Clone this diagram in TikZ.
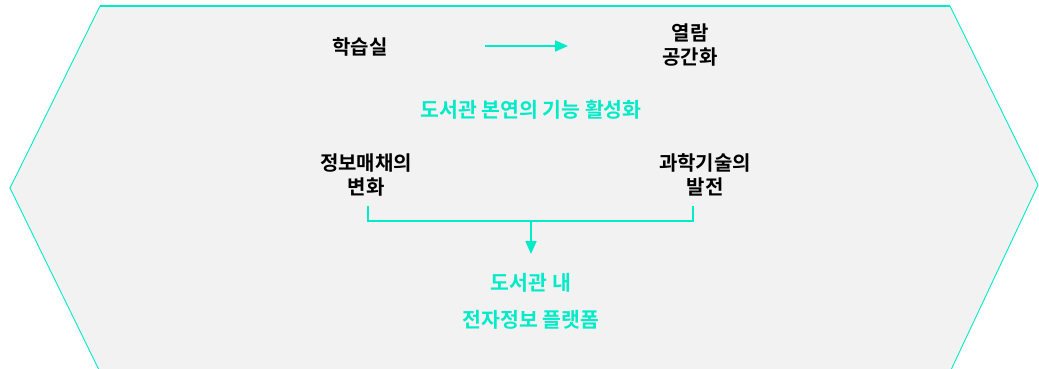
\documentclass[tikz,border=0pt]{standalone}
\usepackage{fontspec}
\setmainfont{Noto Sans CJK KR}[BoldFont={Noto Sans CJK KR Bold}]
\usetikzlibrary{arrows.meta}
\definecolor{aqua}{RGB}{0,235,200}
\tikzset{
  lbl/.style={font=\fontsize{20}{23.5}\selectfont\bfseries, text=black, align=center, inner sep=0pt},
  clbl/.style={font=\fontsize{20.5}{24}\selectfont\bfseries, text=aqua, align=center, inner sep=0pt},
  conn/.style={draw=aqua, line width=1.8pt},
  tip/.style={-{Triangle[length=13pt,width=11pt]}}
}
\begin{document}
\begin{tikzpicture}[x=1pt,y=-1pt]
\useasboundingbox (0,0) rectangle (1039,369);
\fill[black!5] (100,6) -- (950,6) -- (1038,185) -- (950,372) -- (100,372) -- (10,188) -- cycle;
\draw[aqua, line width=0.9pt] (100,372) -- (10,188) -- (100,6);
\draw[aqua, line width=0.9pt] (950,6) -- (1038,185) -- (950,372);
\draw[aqua, line width=1.8pt] (100,6) -- (950,6);

\node[lbl] (study) at (360,47) {학습실};
\node[lbl] (open) at (690,45) {열람\\공간화};
\coordinate (a1) at (485,46);
\coordinate (a2) at (568,46);
\draw[conn,tip] (a1) -- (a2);

\node[clbl] (core) at (531,110) {도서관 본연의 기능 활성화};

\node[lbl] (media) at (366,175) {정보매채의\\변화};
\node[lbl] (tech) at (705,175) {과학기술의\\발전};

\coordinate (m1) at (368,206);
\coordinate (t1) at (693,206);
\coordinate (mid) at (531,221);
\draw[conn, line width=1.3pt] (m1) |- (mid) -| (t1);
\coordinate (down) at (531,254);
\draw[conn,tip] (mid) -- (down);

\node[clbl] (lib) at (531,283) {도서관 내};
\node[clbl] (plat) at (531,320) {전자정보 플랫폼};
\end{tikzpicture}
\end{document}
